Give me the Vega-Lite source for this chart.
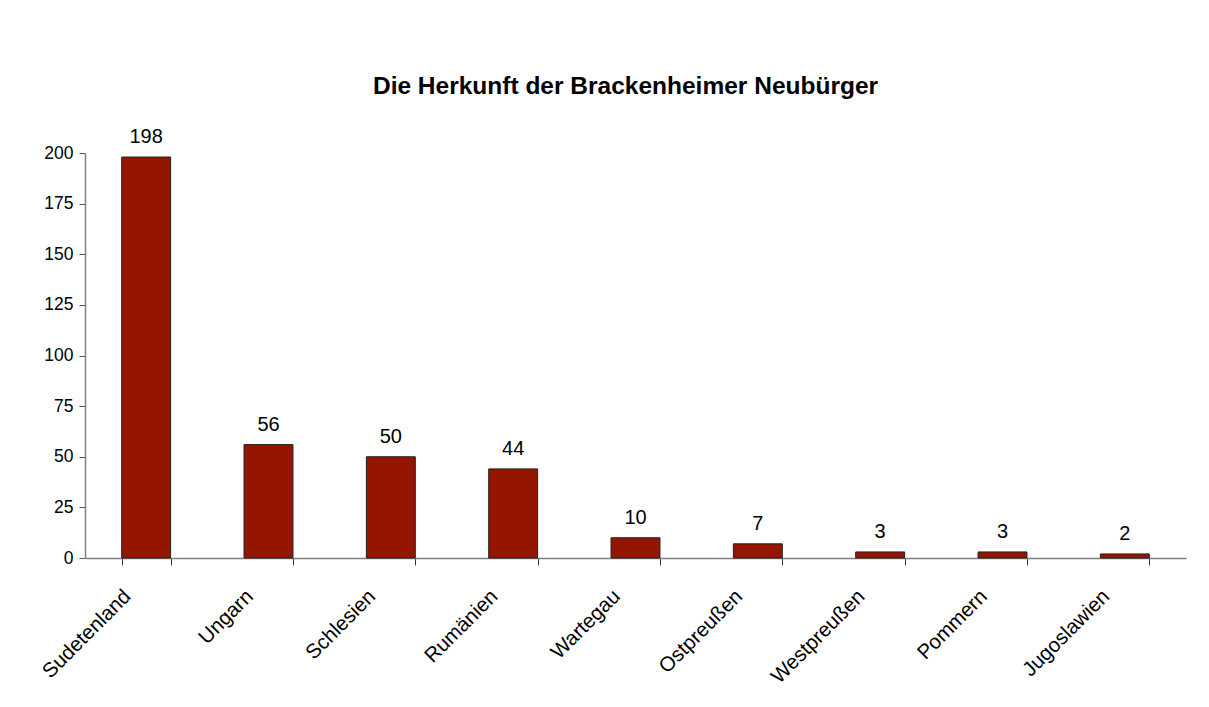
{
  "$schema": "https://vega.github.io/schema/vega-lite/v6.json",
  "autosize": {"type": "none"},
  "width": 1101,
  "height": 405,
  "padding": {"left": 85, "top": 153, "right": 23, "bottom": 149},
  "background": "white",
  "title": {
    "text": "Die Herkunft der Brackenheimer Neubürger",
    "font": "Liberation Sans",
    "fontSize": 24.5,
    "fontWeight": "bold",
    "color": "black",
    "anchor": "middle",
    "offset": 28,
    "dx": -10
  },
  "data": {
    "values": [
      {"herkunft": "Sudetenland", "anzahl": 198},
      {"herkunft": "Ungarn", "anzahl": 56},
      {"herkunft": "Schlesien", "anzahl": 50},
      {"herkunft": "Rumänien", "anzahl": 44},
      {"herkunft": "Wartegau", "anzahl": 10},
      {"herkunft": "Ostpreußen", "anzahl": 7},
      {"herkunft": "Westpreußen", "anzahl": 3},
      {"herkunft": "Pommern", "anzahl": 3},
      {"herkunft": "Jugoslawien", "anzahl": 2}
    ]
  },
  "encoding": {
    "x": {
      "field": "herkunft",
      "type": "nominal",
      "sort": null,
      "scale": {"paddingInner": 0.6, "paddingOuter": 0.3},
      "axis": {
        "title": null,
        "labelAngle": -45,
        "labelAlign": "right",
        "labelBaseline": "middle",
        "labelFont": "Liberation Sans",
        "labelFontSize": 20.5,
        "labelColor": "black",
        "labelPadding": 28,
        "labelOffset": -19,
        "tickBand": "extent",
        "tickSize": 7,
        "tickColor": "#333",
        "domainColor": "#808080",
        "domainWidth": 1.5
      }
    },
    "y": {
      "field": "anzahl",
      "type": "quantitative",
      "scale": {"domain": [0, 200]},
      "axis": {
        "title": null,
        "values": [0, 25, 50, 75, 100, 125, 150, 175, 200],
        "grid": false,
        "labelFont": "Liberation Sans",
        "labelFontSize": 17.5,
        "labelColor": "black",
        "labelPadding": 6,
        "tickSize": 6,
        "tickColor": "#555",
        "domainColor": "#808080",
        "domainWidth": 1.5
      }
    }
  },
  "layer": [
    {
      "mark": {"type": "bar", "color": "#941500", "stroke": "#222", "strokeWidth": 1}
    },
    {
      "mark": {"type": "text", "baseline": "alphabetic", "dy": -14, "font": "Liberation Sans", "fontSize": 20, "color": "black"},
      "encoding": {"text": {"field": "anzahl", "type": "quantitative"}}
    }
  ],
  "config": {"view": {"stroke": null}}
}
